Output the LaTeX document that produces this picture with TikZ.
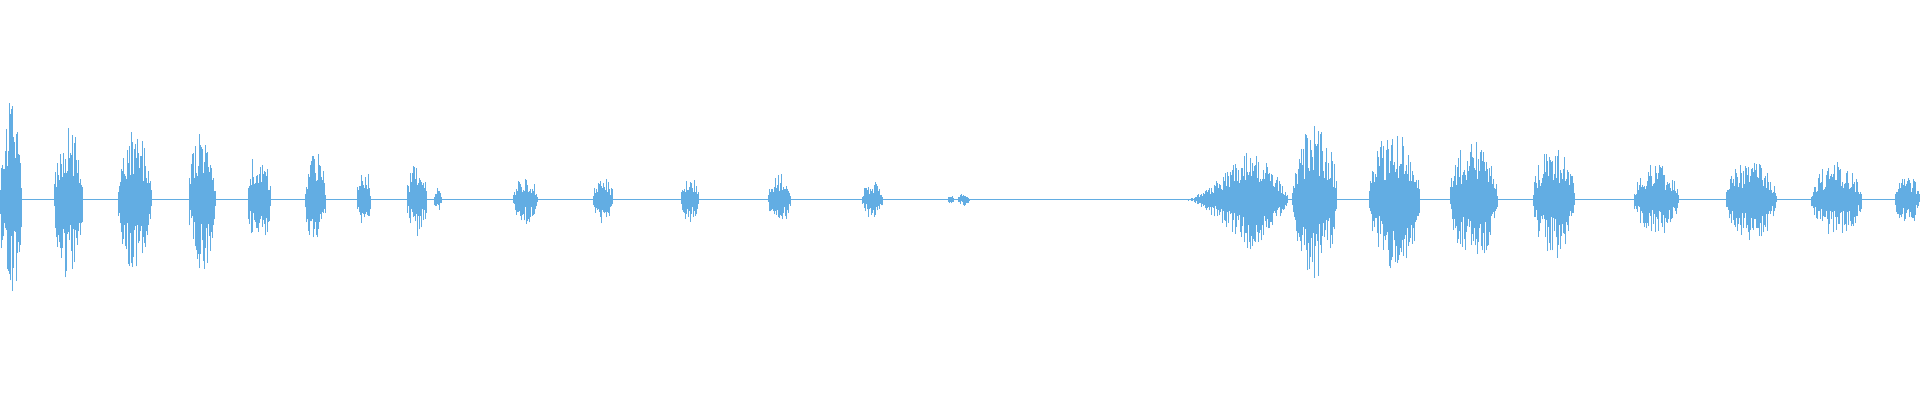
\documentclass[tikz,border=0pt]{standalone}
\definecolor{wave}{HTML}{62ADE3}
\begin{document}
\begin{tikzpicture}[x=0.01cm,y=0.01cm,wv/.style={draw=wave,line width=0.006cm}]
\pgfmathsetseed{7}
\useasboundingbox (0,0) rectangle (1568,327);
\coordinate (L) at (0,164);
\coordinate (R) at (1568,164);
\draw[draw=wave,line width=0.012cm] (L) -- (R);
\foreach \s/\e/\a in {0/18/82, 44/68/68, 96/124/58, 154/176/60, 202/221/44, 249/266/42, 291/303/28, 332/349/30, 354/361/10, 419/439/20, 484/501/20, 556/571/20, 627/646/22, 704/721/16, 774/779/5, 782/792/5, 1547/1568/22, 1055/1092/64, 1118/1160/58, 1184/1223/52, 1252/1286/48, 1334/1371/30, 1409/1451/34, 1479/1521/31}{
  \foreach \x in {\s,\s.5,...,\e}{
    \pgfmathsetmacro\env{sqrt(abs(sin(180*(\x-\s)/(\e-\s))))}
    \pgfmathsetmacro\u{164+\a*\env*(0.3+0.7*rnd^1.8)}
    \pgfmathsetmacro\d{164-\a*\env*(0.3+0.7*rnd^1.8)}
    \draw[wv] (\x,\d) -- (\x,\u);
  }
}
% growing swell
\foreach \x in {970,970.5,...,1052}{
  \pgfmathsetmacro\env{(\x<1022)*((\x-970)/52)^1.3+(\x>=1022)*(1-(\x-1022)/30)^0.7}
  \pgfmathsetmacro\u{164+44*\env*(0.35+0.65*rnd^1.5)}
  \pgfmathsetmacro\d{164-44*\env*(0.35+0.65*rnd^1.5)}
  \draw[wv] (\x,\d) -- (\x,\u);
}
\end{tikzpicture}
\end{document}
